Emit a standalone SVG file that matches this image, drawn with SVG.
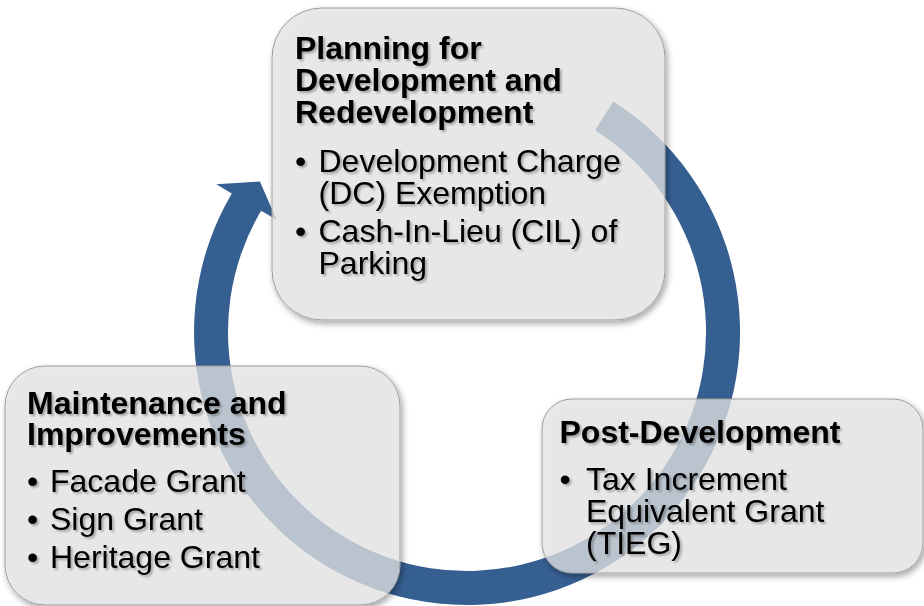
<svg xmlns="http://www.w3.org/2000/svg" width="924" height="606" viewBox="0 0 924 606">
  <defs>
    <style>
      .box { fill: #e2e2e2; fill-opacity: 0.76; stroke: #9c9c9c; stroke-width: 1; }
      .head { font-family: "Liberation Sans", Arial, sans-serif; font-size: 32px; font-weight: bold; fill: #000; }
      .body { font-family: "Liberation Sans", Arial, sans-serif; font-size: 32px; fill: #000; }
      .ring { fill: #365f91; }
    </style>
    <filter id="boxShadow" x="-10%" y="-10%" width="125%" height="130%">
      <feGaussianBlur in="SourceAlpha" stdDeviation="3" result="b"/>
      <feOffset in="b" dx="2" dy="3" result="o"/>
      <feComponentTransfer in="o" result="s">
        <feFuncA type="linear" slope="0.45"/>
      </feComponentTransfer>
      <feComposite in="s" in2="SourceAlpha" operator="out" result="so"/>
      <feMerge>
        <feMergeNode in="so"/>
        <feMergeNode in="SourceGraphic"/>
      </feMerge>
    </filter>
    <filter id="textShadow" x="-5%" y="-10%" width="115%" height="130%">
      <feGaussianBlur in="SourceAlpha" stdDeviation="1.3" result="b"/>
      <feOffset in="b" dx="1.5" dy="1.5" result="o"/>
      <feComponentTransfer in="o" result="s">
        <feFuncA type="linear" slope="0.3"/>
      </feComponentTransfer>
      <feMerge>
        <feMergeNode in="s"/>
        <feMergeNode in="SourceGraphic"/>
      </feMerge>
    </filter>
  </defs>

  <g id="connectors">
    <path class="ring" d="M613.3,101.5 A273,273 0 1 1 231.8,193.5 L216.3,184.3 L259.9,181.5 L276.6,219.8 L261.1,210.7 A239,239 0 1 0 595.1,130.2 Z"/>
  </g>

  <g id="node-planning">
    <rect class="box" x="272" y="8" width="393" height="312" rx="50" ry="50" filter="url(#boxShadow)"/>
    <g filter="url(#textShadow)">
      <text class="head" x="295" y="59">Planning for</text>
      <text class="head" x="295" y="91">Development and</text>
      <text class="head" x="295" y="123">Redevelopment</text>
      <text class="body" x="295" y="172">•</text>
      <text class="body" x="318.5" y="172">Development Charge</text>
      <text class="body" x="318.5" y="203.5">(DC) Exemption</text>
      <text class="body" x="295" y="242">•</text>
      <text class="body" x="318.5" y="242">Cash-In-Lieu (CIL) of</text>
      <text class="body" x="318.5" y="273.5">Parking</text>
    </g>
  </g>

  <g id="node-maintenance">
    <rect class="box" x="5" y="366" width="395" height="239" rx="40" ry="40" filter="url(#boxShadow)"/>
    <g filter="url(#textShadow)">
      <text class="head" x="27" y="414">Maintenance and</text>
      <text class="head" x="27" y="445">Improvements</text>
      <text class="body" x="27" y="492">•</text>
      <text class="body" x="50" y="492">Facade Grant</text>
      <text class="body" x="27" y="530">•</text>
      <text class="body" x="50" y="530">Sign Grant</text>
      <text class="body" x="27" y="568">•</text>
      <text class="body" x="50" y="568">Heritage Grant</text>
    </g>
  </g>

  <g id="node-post">
    <rect class="box" x="542" y="399" width="381" height="174" rx="30" ry="30" filter="url(#boxShadow)"/>
    <g filter="url(#textShadow)">
      <text class="head" x="559.5" y="443">Post-Development</text>
      <text class="body" x="559.5" y="490">•</text>
      <text class="body" x="586" y="490">Tax Increment</text>
      <text class="body" x="586" y="522">Equivalent Grant</text>
      <text class="body" x="586" y="554">(TIEG)</text>
    </g>
  </g>
</svg>
